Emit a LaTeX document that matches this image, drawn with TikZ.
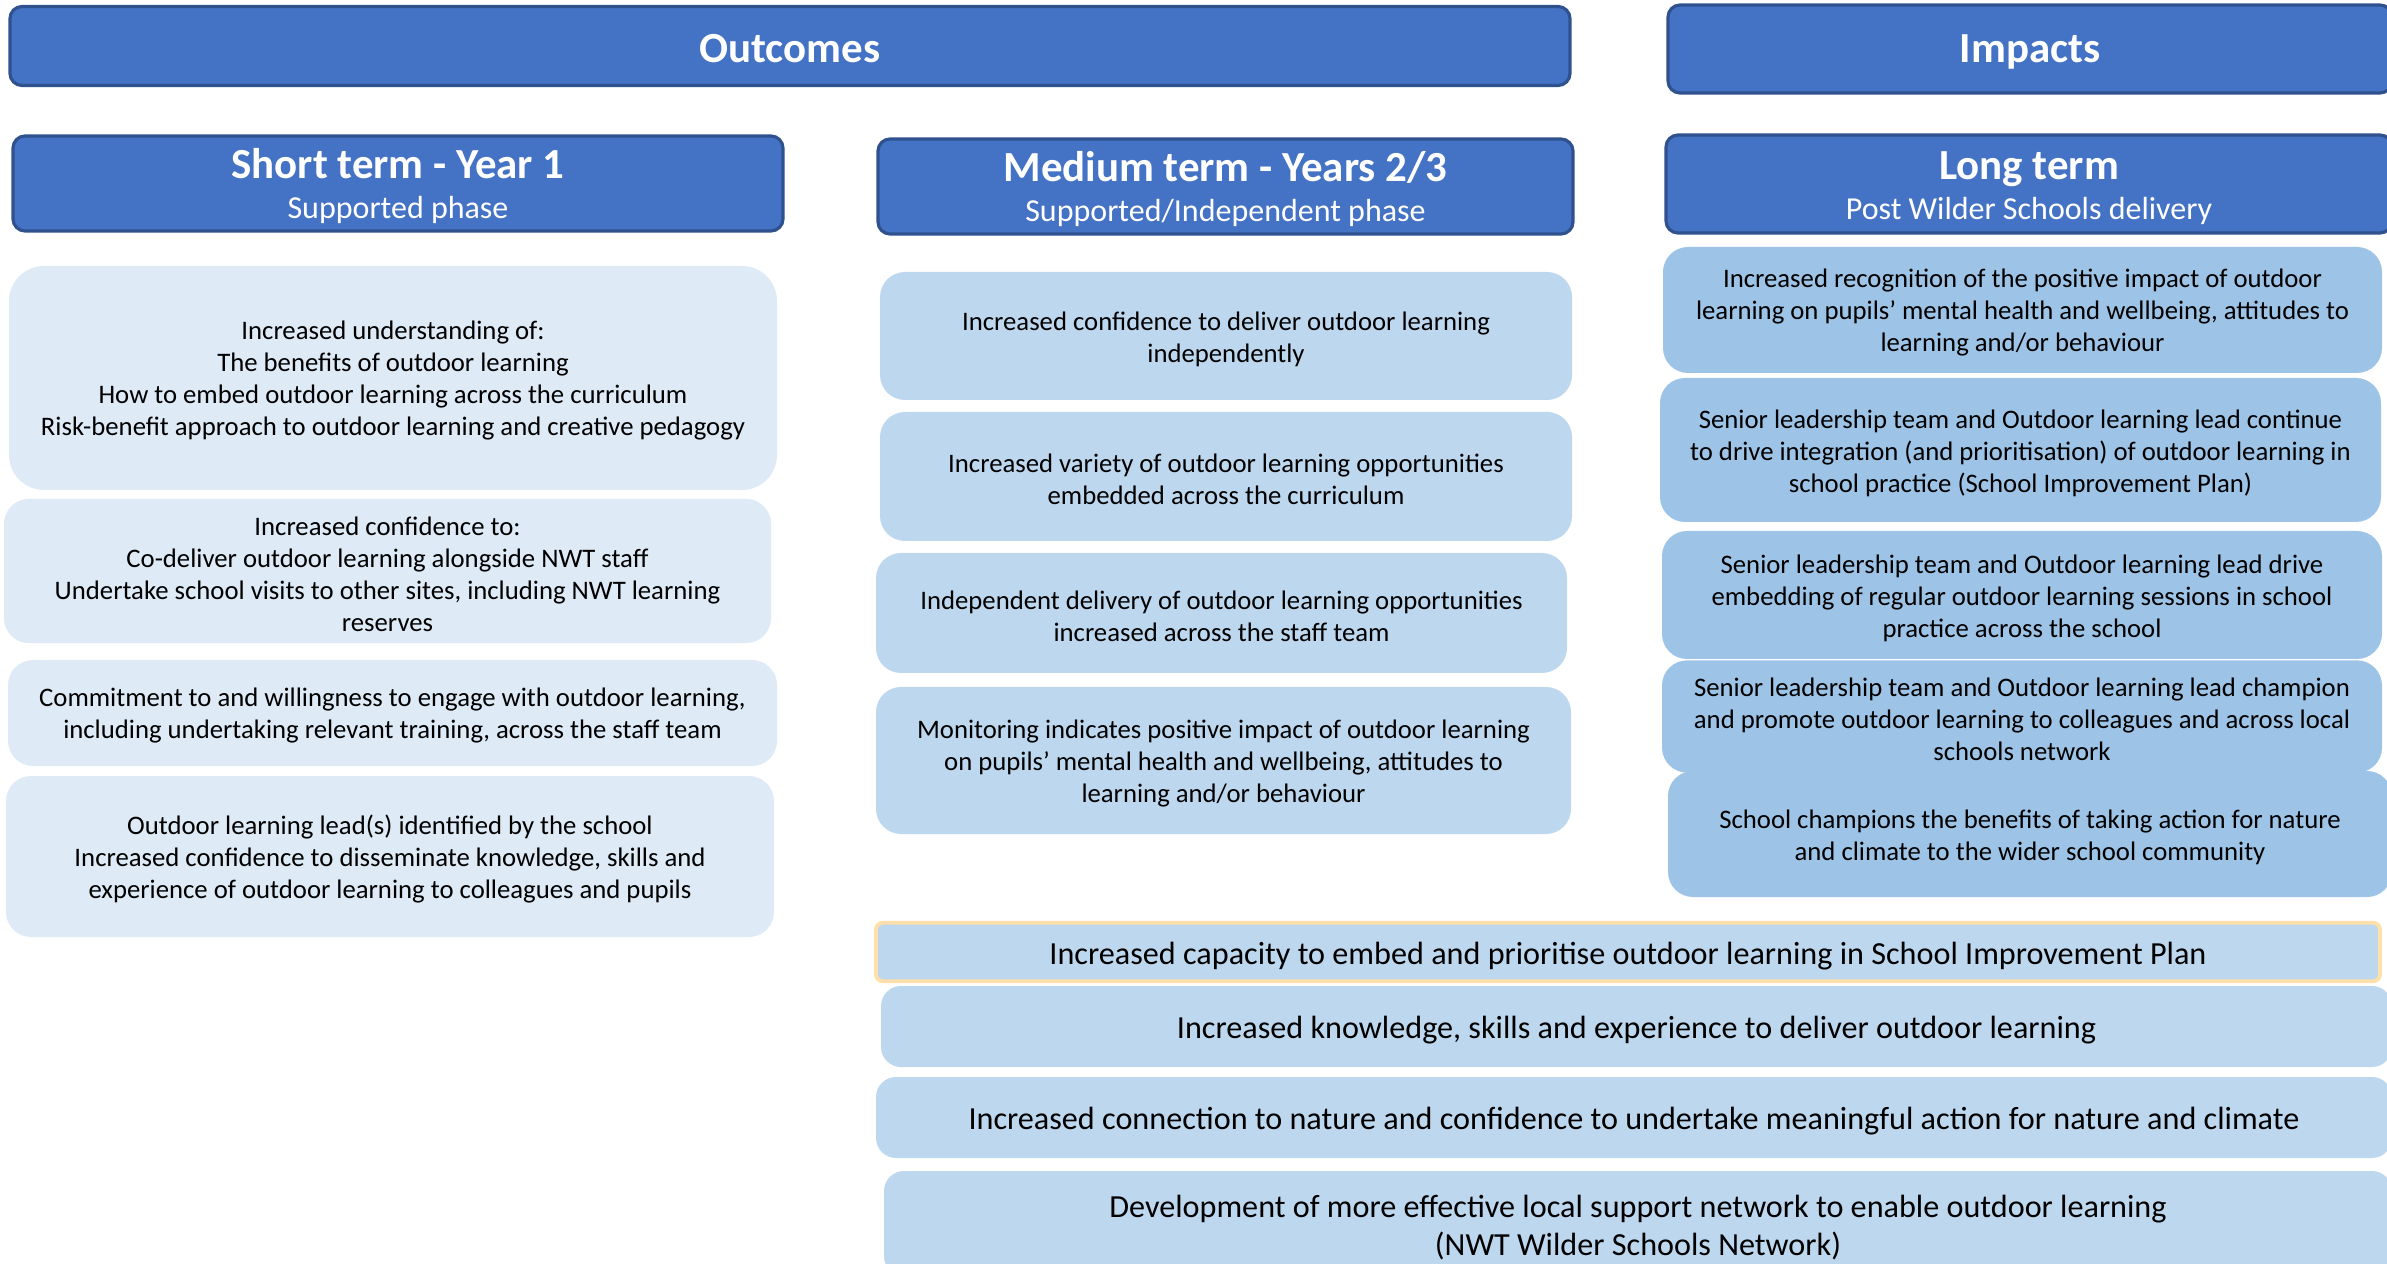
\documentclass[tikz,border=0pt]{standalone}
\usepackage{fontspec}
\setmainfont{Carlito}
\usetikzlibrary{positioning}

\definecolor{hdrblue}{HTML}{4472C4}
\definecolor{hdrline}{HTML}{2F528F}
\definecolor{palefill}{HTML}{DEEAF6}
\definecolor{medfill}{HTML}{BDD7EE}
\definecolor{longfill}{HTML}{9DC3E6}
\definecolor{goldline}{HTML}{FFE0AA}

\newcommand{\tstrut}{\rule{0pt}{0.92em}}

\begin{document}
\begin{tikzpicture}[x=0.01cm,y=-0.01cm,
    sz/.style 2 args={minimum width=#1*0.01cm,minimum height=#2*0.01cm}]
       \tikzstyle{hdr}=[draw=hdrline, line width=0.9pt, fill=hdrblue, text=white, rounded corners=0.12cm, align=center, inner ysep=1pt, font=\fontsize{9.1}{11.4}\selectfont]
       \tikzstyle{bigtitle}=[hdr, font=\fontsize{12.2}{14}\selectfont\bfseries]
       \tikzstyle{shortbox}=[fill=palefill, rounded corners=0.25cm, align=center, font=\fontsize{7.6}{9.1}\selectfont]
       \tikzstyle{medbox}=[shortbox, fill=medfill]
       \tikzstyle{longbox}=[shortbox, fill=longfill]
       \tikzstyle{widebox}=[medbox, font=\fontsize{9.15}{10.8}\selectfont]

       \clip (0,0) rectangle (2387,1264);

       % headings
       \node[bigtitle, sz={1560}{79}] (out) at (790,46) {\rule[-0.15em]{0pt}{1.05em}Outcomes};
       \node[bigtitle, sz={724}{88}] (imp) at (2030,49) {\rule[-0.2em]{0pt}{1.05em}Impacts};
       \node[hdr, sz={770}{95}] (st) at (398,183.5) {{\fontsize{12.2}{14}\selectfont\bfseries\rule{0pt}{10.6pt}Short term - Year 1}\\Supported phase\rule[-2pt]{0pt}{0pt}};
       \node[hdr, sz={695}{95}] (mt) at (1225.5,186.5) {{\fontsize{12.2}{14}\selectfont\bfseries\rule{0pt}{10.6pt}Medium term - Years 2/3}\\Supported/Independent phase\rule[-2pt]{0pt}{0pt}};
       \node[hdr, sz={726}{98}] (lt) at (2029,184) {{\fontsize{12.2}{14}\selectfont\bfseries\rule{0pt}{10.6pt}Long term}\\Post Wilder Schools delivery\rule[-2pt]{0pt}{0pt}};

       % short term
       \node[shortbox, sz={768}{224}, rounded corners=0.35cm] (s_1) at (393,378) {\tstrut Increased understanding of:\\The benefits of outdoor learning\\How to embed outdoor learning across the curriculum\\Risk-benefit approach to outdoor learning and creative pedagogy};
       \node[shortbox, sz={767}{132}] (s_2) at (387.5,571) {\tstrut Increased confidence to:\\Co-deliver outdoor learning alongside NWT staff\\Undertake school visits to other sites, including NWT learning\\reserves};
       \node[shortbox, sz={769}{106}] (s_3) at (392.5,713) {\tstrut Commitment to and willingness to engage with outdoor learning,\\including undertaking relevant training, across the staff team};
       \node[shortbox, sz={768}{161}] (s_4) at (390,856.5) {\tstrut Outdoor learning lead(s) identified by the school\\Increased confidence to disseminate knowledge, skills and\\experience of outdoor learning to colleagues and pupils};

       % medium term
       \node[medbox, sz={692}{128}] (m_1) at (1226,336) {\tstrut Increased confidence to deliver outdoor learning\\independently};
       \node[medbox, sz={692}{129}] (m_2) at (1226,476.5) {\tstrut Increased variety of outdoor learning opportunities\\embedded across the curriculum};
       \node[medbox, sz={691}{120}] (m_3) at (1221.5,613) {\tstrut Independent delivery of outdoor learning opportunities\\increased across the staff team};
       \node[medbox, sz={695}{147}] (m_4) at (1223.5,760.5) {\tstrut Monitoring indicates positive impact of outdoor learning\\on pupils’ mental health and wellbeing, attitudes to\\learning and/or behaviour};

       % long term
       \node[longbox, sz={719}{126}] (l_1) at (2022.5,310) {\tstrut Increased recognition of the positive impact of outdoor\\learning on pupils’ mental health and wellbeing, attitudes to\\learning and/or behaviour};
       \node[longbox, sz={721}{144}] (l_2) at (2020.5,450) {\tstrut Senior leadership team and Outdoor learning lead continue\\to drive integration (and prioritisation) of outdoor learning in\\school practice (School Improvement Plan)};
       \node[longbox, sz={720}{128}] (l_3) at (2022,595) {\tstrut Senior leadership team and Outdoor learning lead drive\\embedding of regular outdoor learning sessions in school\\practice across the school};
       \node[longbox, sz={720}{95}] (l_4) at (2022,716.5) {\tstrut Senior leadership team and Outdoor learning lead champion\\and promote outdoor learning to colleagues and across local\\schools network};
       \node[longbox, sz={724}{126}] (l_5) at (2030,834) {\tstrut School champions the benefits of taking action for nature\\and climate to the wider school community};

       % across medium and long term
       \node[widebox, sz={1504}{46}, rounded corners=0.07cm, draw=goldline, line width=1.1pt] (b_1) at (1628,952) {\tstrut Increased capacity to embed and prioritise outdoor learning in School Improvement Plan};
       \node[widebox, sz={1511}{81}, rounded corners=0.2cm] (b_2) at (1636.5,1026.5) {\tstrut Increased knowledge, skills and experience to deliver outdoor learning};
       \node[widebox, sz={1516}{81}, rounded corners=0.2cm] (b_3) at (1634,1117.5) {\tstrut Increased connection to nature and confidence to undertake meaningful action for nature and climate};
       \node[widebox, sz={1508}{105}, rounded corners=0.2cm] (b_4) at (1638,1223.5) {\tstrut Development of more effective local support network to enable outdoor learning\\(NWT Wilder Schools Network)};
\end{tikzpicture}
\end{document}
